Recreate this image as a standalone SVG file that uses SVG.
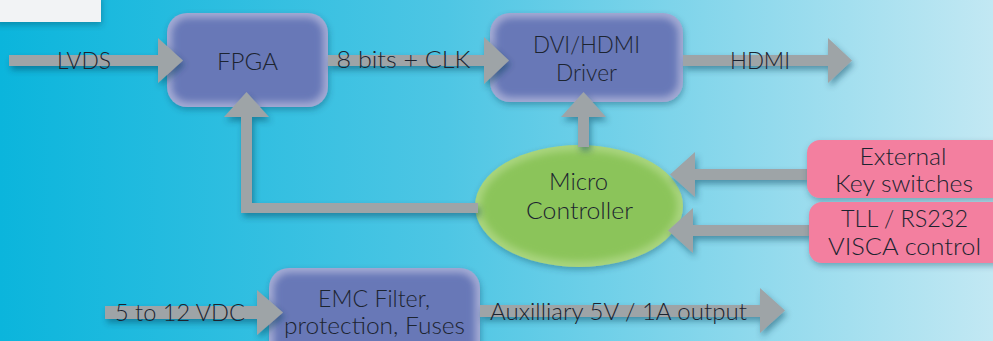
<svg xmlns="http://www.w3.org/2000/svg" width="993" height="341" viewBox="0 0 993 341">
<defs>
<linearGradient id="bg" x1="0" y1="0" x2="1" y2="0">
<stop offset="0" stop-color="#0bb5dc"/>
<stop offset="0.45" stop-color="#4ec6e4"/>
<stop offset="1" stop-color="#c2e8f3"/>
</linearGradient>
<filter id="sh" x="-20%" y="-40%" width="140%" height="180%">
<feDropShadow dx="2" dy="4" stdDeviation="3" flood-color="#0d3b52" flood-opacity="0.45"/>
</filter>
<filter id="soft" x="-10%" y="-10%" width="120%" height="120%">
<feGaussianBlur stdDeviation="3.5"/>
</filter>
<filter id="bsh" x="-20%" y="-30%" width="140%" height="160%">
<feDropShadow dx="1" dy="3" stdDeviation="3" flood-color="#0d3b52" flood-opacity="0.35"/>
</filter>
</defs>
<style>
.arrow{fill:#9ea4a7;filter:url(#sh)}
.boxo{fill:#a3abd4}
.boxi{fill:#6878b7;filter:url(#soft)}
.pink{fill:#f37f9f}
.t{font-family:Lato,"Open Sans","Liberation Sans",sans-serif;font-size:23px;font-weight:300;fill:#1c2430;text-anchor:middle}
</style>
<rect width="993" height="341" fill="url(#bg)"/>
<g id="note">
<rect x="-5" y="-5" width="106" height="27" fill="#f2f3f5" filter="url(#bsh)"/>
</g>
<g id="fpga">
<g filter="url(#bsh)"><rect class="boxo" x="167" y="13" width="161" height="94" rx="20"/></g>
<rect class="boxi" x="172" y="18" width="151" height="84" rx="16"/>
<text class="t" x="247.5" y="70" textLength="61" lengthAdjust="spacingAndGlyphs">FPGA</text>
</g>
<g id="dvi">
<g filter="url(#bsh)"><rect class="boxo" x="490" y="13" width="193" height="89" rx="20"/></g>
<rect class="boxi" x="495" y="18" width="183" height="79" rx="16"/>
<text class="t" x="586.5" y="53" textLength="107" lengthAdjust="spacingAndGlyphs">DVI/HDMI</text>
<text class="t" x="586.5" y="81" textLength="61" lengthAdjust="spacingAndGlyphs">Driver</text>
</g>
<g id="emc">
<g filter="url(#bsh)"><rect class="boxo" x="269" y="268" width="211" height="100" rx="20"/></g>
<rect class="boxi" x="274" y="273" width="201" height="90" rx="16"/>
<text class="t" x="374" y="307" textLength="112" lengthAdjust="spacingAndGlyphs">EMC Filter,</text>
<text class="t" x="374.5" y="334" textLength="181" lengthAdjust="spacingAndGlyphs">protection, Fuses</text>
</g>
<g id="micro">
<ellipse cx="579" cy="206" rx="104" ry="61" fill="#a9d57e" filter="url(#bsh)"/>
<ellipse cx="579" cy="206" rx="98" ry="55" fill="#8bc45a" filter="url(#soft)"/>
<text class="t" x="578.5" y="190" textLength="59" lengthAdjust="spacingAndGlyphs">Micro</text>
<text class="t" x="579.5" y="219" textLength="107" lengthAdjust="spacingAndGlyphs">Controller</text>
</g>
<g id="connectors">
<polygon class="arrow" points="9,55 158,55 158,38 183,60.5 158,83 158,66 9,66"/>
<polygon class="arrow" points="328,55 484,55 484,37 509,60.5 484,84 484,66 328,66"/>
<polygon class="arrow" points="683,55 828,55 828,38 852,60.5 828,83 828,66 683,66"/>
<polygon class="arrow" points="578,147 578,117 561,117 583.5,92 606,117 589,117 589,147"/>
<polygon class="arrow" points="478,203 252,203 252,117 269,117 246.5,92 224,117 241,117 241,213 478,213"/>
<polygon class="arrow" points="808,169 695,169 695,152 670,174.5 695,197 695,180 808,180"/>
<polygon class="arrow" points="810,225 693,225 693,208 668,230.5 693,253 693,236 810,236"/>
<polygon class="arrow" points="105,306 257,306 257,290 283,312.5 257,335 257,319 105,319"/>
<polygon class="arrow" points="480,305 760,305 760,288 785,310.5 760,333 760,317 480,317"/>
</g>
<g id="labels">
<text class="t" x="84" y="69" textLength="54" lengthAdjust="spacingAndGlyphs">LVDS</text>
<text class="t" x="403.5" y="68" textLength="134" lengthAdjust="spacingAndGlyphs">8 bits + CLK</text>
<text class="t" x="760" y="69" textLength="60" lengthAdjust="spacingAndGlyphs">HDMI</text>
<text class="t" x="180" y="321" textLength="130" lengthAdjust="spacingAndGlyphs">5 to 12 VDC</text>
<text class="t" x="618.5" y="320" textLength="257" lengthAdjust="spacingAndGlyphs">Auxilliary 5V / 1A output</text>
</g>
<g id="ext">
<rect class="pink" x="807" y="140" width="200" height="58" rx="13" filter="url(#bsh)"/>
<text class="t" x="903" y="165" textLength="87" lengthAdjust="spacingAndGlyphs">External</text>
<text class="t" x="904" y="192" textLength="138" lengthAdjust="spacingAndGlyphs">Key switches</text>
</g>
<g id="tll">
<rect class="pink" x="809" y="202" width="200" height="61" rx="13" filter="url(#bsh)"/>
<text class="t" x="904.5" y="227" textLength="127" lengthAdjust="spacingAndGlyphs">TLL / RS232</text>
<text class="t" x="904.5" y="255" textLength="153" lengthAdjust="spacingAndGlyphs">VISCA control</text>
</g>
</svg>
